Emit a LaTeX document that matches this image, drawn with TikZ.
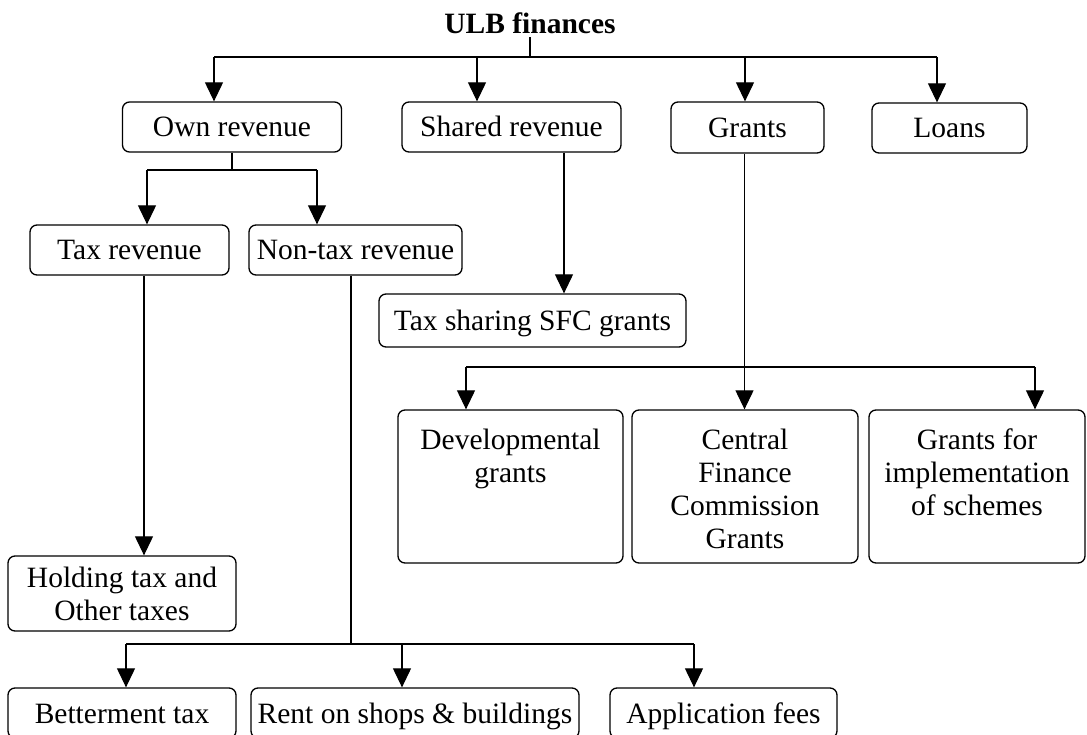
\documentclass[tikz,border=0pt]{standalone}
\usepackage{fontspec}
\setmainfont{Liberation Serif}
\usetikzlibrary{arrows.meta}
\tikzset{
  box/.style={draw, line width=1.3pt, rounded corners=7pt, inner sep=0pt,
    font=\fontsize{29.5pt}{33pt}\selectfont, text height=20pt, text depth=0pt},
  tallbox/.style={draw, line width=1.3pt, rounded corners=7pt, inner sep=0pt,
    font=\fontsize{29.5pt}{33pt}\selectfont},
  conn/.style={line width=1.1pt},
  arr/.style={conn, -{Triangle[length=19pt,width=18pt]}}
}
\begin{document}
\begin{tikzpicture}[x=1pt,y=-1pt]
\useasboundingbox (0,0) rectangle (1087,735);
\clip (0,0) rectangle (1087,735);
% title
\node[font=\bfseries\fontsize{29.5pt}{33pt}\selectfont, inner xsep=0pt, inner ysep=3pt, anchor=base] (title) at (530,34) {ULB finances};
% level 1
\node[box, minimum width=219pt, minimum height=50pt] (own) at (232,127) {Own revenue};
\node[box, minimum width=219pt, minimum height=50pt] (shared) at (511.5,127) {Shared revenue};
\node[box, minimum width=153pt, minimum height=51pt] (grants) at (747.5,127.5) {Grants};
\node[box, minimum width=155pt, minimum height=50pt] (loans) at (949.5,128) {Loans};
% level 2
\node[box, minimum width=199pt, minimum height=50pt] (taxrev) at (129.5,250) {Tax revenue};
\node[box, minimum width=213pt, minimum height=50pt] (nontax) at (355.5,250) {Non-tax revenue};
\node[box, minimum width=307pt, minimum height=53pt] (sfc) at (532.5,320.5) {Tax sharing SFC grants};
% grants children
\node[tallbox] (dev) at (510.5,486.5) {\parbox[c][153pt][t]{225pt}{\centering\rule{0pt}{39pt}Developmental\\grants}};
\node[tallbox] (cfc) at (745,486.5) {\parbox[c][153pt][t]{226pt}{\centering\rule{0pt}{39pt}Central\\Finance\\Commission\\Grants}};
\node[tallbox] (gfi) at (977,486.5) {\parbox[c][153pt][t]{216pt}{\centering\rule{0pt}{39pt}Grants for\\implementation\\of schemes}};
% tax revenue child
\node[tallbox] (hold) at (122,593.5) {\parbox[c][75pt][t]{228pt}{\centering\rule{0pt}{31pt}Holding tax and\\Other taxes}};
% non-tax children
\node[box, minimum width=228pt, minimum height=50pt] (bet) at (122,713) {Betterment tax};
\node[box, minimum width=328pt, minimum height=50pt] (rent) at (415,713) {Rent on shops \& buildings};
\node[box, minimum width=227pt, minimum height=50pt] (app) at (723.5,713) {Application fees};
% top bus
\coordinate (tj) at (530,57);
\coordinate (b1) at (214,57);
\coordinate (b3) at (477,57);
\coordinate (b4) at (745,57);
\coordinate (b2) at (937,57);
\draw[conn] (title.south) -- (tj);
\draw[conn] (b1) -- (b2);
\draw[arr] (b1) -- (b1 |- own.north);
\draw[arr] (b3) -- (b3 |- shared.north);
\draw[arr] (b4) -- (b4 |- grants.north);
\draw[arr] (b2) -- (b2 |- loans.north);
% own revenue branch
\coordinate (oj) at (232,170);
\coordinate (o2) at (147,170);
\coordinate (o3) at (317,170);
\draw[conn] (own.south) -- (oj);
\draw[conn] (o2) -- (o3);
\draw[arr] (o2) -- (o2 |- taxrev.north);
\draw[arr] (o3) -- (o3 |- nontax.north);
% shared revenue
\path (shared.south) ++(52.5,0) coordinate (s1);
\draw[arr] (s1) -- (s1 |- sfc.north);
% grants
\path (grants.south) ++(-3,0) coordinate (g0);
\coordinate (g1) at (466,367);
\coordinate (g2) at (1035,367);
\draw[arr] (g0) -- (g0 |- cfc.north);
\draw[conn] (g1) -- (g2);
\draw[arr] (g1) -- (g1 |- dev.north);
\draw[arr] (g2) -- (g2 |- gfi.north);
% tax revenue
\path (taxrev.south) ++(14.5,0) coordinate (t1);
\draw[arr] (t1) -- (t1 |- hold.north);
% non-tax revenue
\path (nontax.south) ++(-4.5,0) coordinate (n1);
\coordinate (nj) at (351,644);
\coordinate (n2) at (126,644);
\coordinate (n4) at (402,644);
\coordinate (n3) at (694,644);
\draw[conn] (n1) -- (nj);
\draw[conn] (n2) -- (n3);
\draw[arr] (n2) -- (n2 |- bet.north);
\draw[arr] (n4) -- (n4 |- rent.north);
\draw[arr] (n3) -- (n3 |- app.north);
\end{tikzpicture}
\end{document}
